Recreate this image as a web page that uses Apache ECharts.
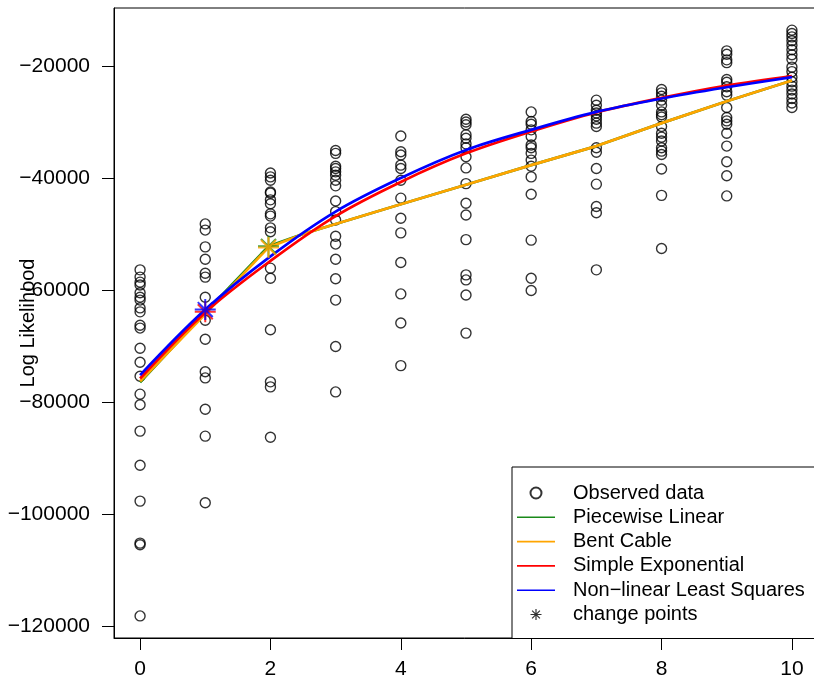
<!DOCTYPE html>
<html>
<head>
<meta charset="utf-8">
<script src="https://cdn.jsdelivr.net/npm/echarts@6/dist/echarts.min.js"></script>
<style>
  html, body { margin: 0; padding: 0; background: #fff; }
  #chart { width: 814px; height: 688px; }
</style>
</head>
<body>
<div id="chart"></div>
<script>
// observed log likelihood values, one list per x position
const obsX = [0, 1, 2, 3, 4, 5, 6, 7, 8, 9, 10]
const obsY = [
  [-56400, -57700, -58600, -59100, -60500, -61300, -61800, -63200, -63900, -66300, -66800, -70400, -72900, -75400, -78600, -80500, -85200, -91300, -97700, -105200, -105500, -118200],
  [-48200, -49300, -52300, -54500, -57000, -57700, -61300, -65400, -68800, -74600, -75700, -81300, -86100, -98000],
  [-39100, -39800, -40400, -42500, -42700, -43900, -44600, -46400, -46800, -48900, -49600, -56100, -57900, -67100, -76400, -77300, -86300],
  [-35100, -35600, -37900, -38300, -38900, -39500, -40400, -41400, -44100, -46000, -47500, -50400, -51800, -54500, -58000, -61800, -70100, -78200],
  [-32500, -35300, -35900, -37700, -38300, -40400, -43600, -47200, -49800, -55100, -60700, -65900, -73500],
  [-29500, -30000, -30500, -32300, -32900, -33900, -34600, -36200, -38200, -41000, -44500, -46600, -51000, -57300, -58200, -60900, -67700],
  [-28200, -29900, -30400, -31400, -32600, -34100, -34600, -35600, -36800, -37900, -39800, -42900, -51100, -57900, -60100],
  [-26100, -27000, -27900, -28400, -28900, -29500, -30200, -30800, -34600, -35400, -38300, -41100, -45100, -46200, -56400],
  [-24200, -24800, -25400, -26100, -27000, -28200, -28700, -29100, -30800, -32000, -32700, -33400, -34600, -35200, -35800, -38400, -43100, -52600],
  [-17300, -17900, -18900, -19400, -22400, -22900, -23700, -24600, -25200, -27400, -29200, -29800, -30400, -32000, -34300, -37100, -39600, -43200],
  [-13600, -14200, -14800, -15500, -16300, -17100, -18000, -18800, -20200, -21000, -22000, -22800, -23600, -24300, -25000, -25800, -26600, -27400]
]

// fitted curves
const pwX = [0, 1, 1.97, 2.5, 3, 4, 5, 6, 7, 8, 9, 10]
const pwY = [-76500, -64000, -52200, -50000, -48200, -44700, -41200, -37700, -34300, -30200, -26300, -22600]
const bcX = [0, 1, 1.97, 2.5, 3, 4, 5, 6, 7, 8, 9, 10]
const bcY = [-76300, -64300, -52400, -50000, -48200, -44700, -41200, -37700, -34300, -30200, -26300, -22600]
const fitX = [0, 1, 2, 3, 4, 5, 6, 7, 8, 9, 10]
const expY = [-75800, -64000, -54800, -46800, -40700, -35600, -31700, -28300, -25700, -23500, -21800]
const nlsY = [-75200, -63500, -54000, -46000, -40000, -35000, -31400, -28200, -25800, -23800, -22000]

// change points of each model
const cpModel = ['Piecewise Linear', 'Bent Cable', 'Simple Exponential', 'Non−linear Least Squares']
const cpX = [1.97, 1.97, 1, 1]
const cpY = [-52200, -52400, -63900, -63500]

const xTicks = [0, 2, 4, 6, 8, 10]
const yTicks = [-120000, -100000, -80000, -60000, -40000, -20000]

const colors = {
  'Piecewise Linear': '#1a8a1a',
  'Bent Cable': '#FFA500',
  'Simple Exponential': '#FF0000',
  'Non−linear Least Squares': '#0000FF',
}
const FONT = '"Liberation Sans", Arial, sans-serif'
const star = 'path://M0,8L16,8M8,0L8,16M2.3,2.3L13.7,13.7M13.7,2.3L2.3,13.7'
const lineIcon = 'path://M0,0L38,0L38,1.6L0,1.6Z'

const pairs = (xs, ys) => xs.map((x, i) => [x, ys[i]])
const obsPoints = []
obsX.forEach((x, i) => obsY[i].forEach(v => obsPoints.push([x, v])))

const chart = echarts.init(document.getElementById('chart'), null, { renderer: 'canvas' })

const lineSeries = (name, data, smooth) => ({
  name, type: 'line', data, smooth,
  symbol: 'none',
  lineStyle: { color: colors[name], width: 2.7 },
  itemStyle: { color: colors[name] },
  z: 3,
})

chart.setOption({
  animation: false,
  textStyle: { fontFamily: FONT },
  grid: {
    left: 114, top: 8, right: -4, bottom: 50,
    containLabel: false, outerBoundsMode: 'none',
    show: true, borderColor: '#000', borderWidth: 1,
  },
  xAxis: {
    type: 'value', min: -0.4, max: 10.4,
    axisLine: { show: true, onZero: false, lineStyle: { color: '#000', width: 1 } },
    axisTick: { show: true, length: 12, customValues: xTicks, lineStyle: { color: '#000' } },
    axisLabel: { customValues: xTicks, color: '#000', fontSize: 21, margin: 21, fontFamily: FONT },
    splitLine: { show: false },
  },
  yAxis: {
    type: 'value', min: -122143, max: -9643,
    name: 'Log Likelihood', nameLocation: 'middle', nameGap: 76, nameMoveOverlap: false,
    nameTextStyle: { color: '#000', fontSize: 20, fontFamily: FONT },
    axisLine: { show: true, onZero: false, lineStyle: { color: '#000', width: 1 } },
    axisTick: { show: true, length: 12, customValues: yTicks, lineStyle: { color: '#000' } },
    axisLabel: {
      customValues: yTicks, color: '#000', fontSize: 21, margin: 24, fontFamily: FONT,
      formatter: v => String(v).replace('-', '−'),
    },
    splitLine: { show: false },
  },
  legend: {
    orient: 'vertical', left: 512, top: 467,
    padding: [14, 30, 12, 5],
    itemWidth: 38, itemHeight: 11, itemGap: 0.3,
    backgroundColor: '#fff', borderColor: '#000', borderWidth: 1, borderRadius: 0,
    textStyle: { color: '#000', fontSize: 20, lineHeight: 24, fontFamily: FONT, padding: [0, 0, 0, 13] },
    data: [
      { name: 'Observed data' },
      { name: 'Piecewise Linear', icon: lineIcon },
      { name: 'Bent Cable', icon: lineIcon },
      { name: 'Simple Exponential', icon: lineIcon },
      { name: 'Non−linear Least Squares', icon: lineIcon },
      { name: 'change points', itemStyle: { borderWidth: 1.2 } },
    ],
  },
  series: [
    {
      name: 'Observed data', type: 'scatter', data: obsPoints,
      symbol: 'circle', symbolSize: 10,
      itemStyle: { color: 'rgba(0,0,0,0)', borderColor: '#000', borderWidth: 1.4 },
      z: 2,
    },
    lineSeries('Piecewise Linear', pairs(pwX, pwY), false),
    lineSeries('Bent Cable', pairs(bcX, bcY), false),
    lineSeries('Simple Exponential', pairs(fitX, expY), 0.35),
    lineSeries('Non−linear Least Squares', pairs(fitX, nlsY), 0.35),
    {
      name: 'change points', type: 'scatter',
      symbol: star, symbolSize: 21,
      itemStyle: { color: 'none', borderColor: '#000', borderWidth: 2 },
      data: cpX.map((x, i) => ({
        value: [x, cpY[i]],
        itemStyle: { borderColor: colors[cpModel[i]] },
      })),
      z: 4,
    },
  ],
})
</script>
</body>
</html>
